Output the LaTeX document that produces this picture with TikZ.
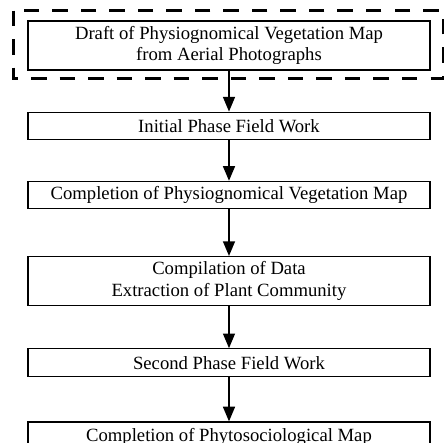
\documentclass[tikz,border=0pt]{standalone}
\usepackage{fontspec}
\setmainfont{Liberation Serif}
\usetikzlibrary{positioning, arrows.meta}

\begin{document}
\begin{tikzpicture}[font=\fontsize{14}{16}\selectfont]
\tikzstyle{stage} = [rectangle, draw, line width=0.9pt, minimum width=301.5pt, minimum height=20.25pt, inner sep=0pt, align=center]
\tikzstyle{arrow} = [line width=1.1pt, -{Triangle[width=9pt, length=11pt]}]
\tikzstyle{dashframe} = [line width=2.25pt, dash pattern=on 11.6pt off 9.8pt]

\useasboundingbox (0pt,0pt) rectangle (333pt,-332.25pt);
\clip (0pt,0pt) rectangle (333pt,-332.25pt);

\node [stage, minimum height=36.75pt] (draft) at (171.75pt,-34.1pt) {Draft of Physiognomical Vegetation Map\\from Aerial Photographs};
\node [stage, below=30.75pt of draft] (initial) {Initial Phase Field Work};
\node [stage, below=30.75pt of initial] (physmap) {Completion of Physiognomical Vegetation Map};
\node [stage, minimum height=36.75pt, below=35.25pt of physmap] (compile) {Compilation of Data\\Extraction of Plant Community};
\node [stage, minimum height=21pt, below=31.5pt of compile] (second) {Second Phase Field Work};
\node [stage, minimum height=22.5pt, below=33pt of second] (phytomap) {Completion of Phytosociological Map};

% dashed frame round the first stage
\draw [dashframe] (10.1pt,-7.9pt) rectangle (332.5pt,-58.9pt);

\draw [arrow] (draft.south) -- (initial.north);
\draw [arrow] (initial.south) -- (physmap.north);
\draw [arrow] (physmap.south) -- (compile.north);
\draw [arrow] (compile.south) -- (second.north);
\draw [arrow] (second.south) -- (phytomap.north);

\end{tikzpicture}
\end{document}
